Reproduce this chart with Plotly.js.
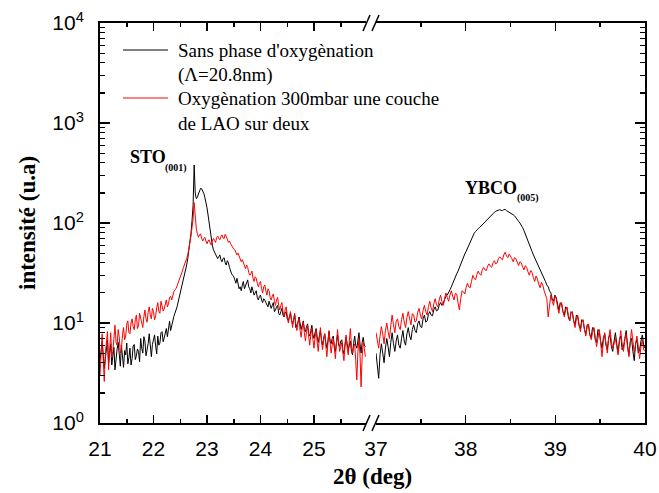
<!DOCTYPE html>
<html>
<head>
<meta charset="utf-8">
<script src="https://cdn.plot.ly/plotly-3.0.1.min.js"></script>
<style>html,body{margin:0;padding:0;background:#fff;}#chart{width:659px;height:493px;}</style>
</head>
<body>
<div id="chart"></div>
<script>
// ---- Data ----
// Left segment: 2theta from 21.00, step 0.02 deg (STO (001) region)
const leftStart = 21.0, leftStep = 0.02;
// Right segment: 2theta from 37.00, step 0.015 deg (YBCO (005) region)
const rightStart = 37.0, rightStep = 0.015;

const blackLeft = [
  4.2, 5.1, 6.5, 4.8, 3.5, 4.4, 5.8, 6.8, 4.0, 5.0,
  6.2, 3.8, 4.6, 5.7, 3.4, 4.9, 5.5, 6.4, 4.2, 3.7,
  6.0, 4.9, 3.6, 5.3, 4.8, 6.3, 3.9, 4.5, 5.6, 3.8,
  4.4, 5.9, 6.1, 4.3, 4.7, 5.5, 5.2, 4.1, 7.0, 5.6,
  5.0, 7.3, 6.6, 4.7, 5.3, 6.2, 7.8, 5.4, 4.6, 6.1,
  6.8, 7.6, 5.9, 4.9, 7.4, 6.0, 6.3, 8.0, 8.2, 6.5,
  7.1, 7.9, 8.8, 7.3, 9.5, 10.4, 8.4, 9.6, 11.0, 11.6,
  12.5, 13.2, 14.5, 16.2, 18, 19.5, 22, 24, 27, 30,
  34, 38, 44, 52, 62, 78, 105, 150, 380, 200,
  175, 180, 195, 210, 222, 220, 212, 198, 180, 162,
  142, 120, 98, 80, 68, 60, 54, 51, 50, 47,
  44, 46, 48, 43, 41, 44, 45, 40, 38, 42,
  40, 36, 33, 31, 30, 29, 27, 25, 28, 24,
  22, 23, 21, 24, 26, 22, 24, 25, 27, 23,
  22, 20, 23, 21, 19, 20, 21, 18, 17, 18.5,
  19, 17, 16, 17.5, 17, 16, 15, 14.5, 16.5, 15,
  14, 15, 16, 13, 13.5, 14.5, 15, 12.5, 12, 13,
  14, 12, 11.5, 12.5, 13, 11, 10.5, 11.5, 12.5, 10.5,
  9.8, 10.8, 12, 9, 9.5, 10.2, 11.5, 9.2, 8.6, 9.5,
  10.5, 8.6, 8.2, 9.2, 9.8, 7.8, 7.4, 8.4, 9.5, 7.6,
  7.0, 8.0, 8.8, 7.2, 6.4, 7.4, 8.4, 6.8, 6.0, 7.0,
  7.8, 6.4, 5.6, 6.6, 8.2, 6.6, 6.2, 7.0, 7.4, 5.8,
  5.2, 6.4, 7.6, 6.0, 5.8, 6.6, 6.8, 5.4, 4.9, 6.0,
  7.2, 6.2, 5.4, 6.0, 6.6, 5.2, 4.8, 6.2, 7.4, 6.0,
  5.6, 6.6, 8.0, 6.2, 5.0, 6.4, 7.2, 6.0, 5.8
];
const redLeft = [
  3.0, 5.6, 7.8, 4.4, 2.6, 5.0, 6.5, 8.2, 3.4, 6.0,
  8.0, 4.6, 5.2, 7.0, 9.5, 6.4, 6.0, 8.6, 7.2, 5.0,
  5.4, 7.6, 9.0, 6.8, 7.4, 9.8, 10.5, 8.0, 7.8, 10.0,
  11.0, 9.2, 8.6, 10.8, 12.0, 8.8, 9.4, 12.5, 11.2, 10.0,
  9.0, 11.6, 13.5, 11.0, 10.2, 12.8, 14.5, 12.0, 11.0, 14.0,
  13.0, 10.8, 11.8, 14.2, 16.0, 13.0, 12.5, 16.5, 15.0, 13.2,
  13.8, 16.0, 17.0, 14.5, 15.5, 18.0, 18.5, 17.0, 19.0, 20.5,
  21.5, 22.0, 23.5, 25.0, 27, 29, 31, 33, 36, 38,
  41, 44, 48, 54, 62, 74, 90, 110, 160, 105,
  88, 78, 72, 76, 78, 70, 66, 70, 72, 66,
  62, 66, 68, 63, 60, 66, 70, 67, 64, 71,
  74, 70, 68, 73, 76, 71, 70, 77, 74, 69,
  64, 66, 62, 59, 57, 55, 54, 50, 48, 50,
  47, 43, 41, 43, 40, 37, 35, 38, 36, 32,
  30, 31, 33, 28, 26, 29, 28, 25, 23, 25,
  26, 22, 20, 23, 24, 21, 19, 22, 21, 18,
  17, 18.5, 19.5, 16.5, 15, 17.0, 18, 15.0, 13.5, 15.0,
  16, 13.0, 11.5, 13.5, 14.5, 12.0, 10.0, 11.5, 13.0, 10.8,
  9.0, 11.0, 12.5, 9.6, 8.4, 10.0, 11.0, 8.4, 7.2, 9.0,
  10.2, 8.0, 6.6, 8.2, 9.6, 7.4, 6.0, 7.6, 8.8, 6.8,
  5.6, 7.2, 8.6, 6.4, 5.2, 7.0, 9.0, 6.6, 5.4, 6.8,
  7.8, 6.0, 4.6, 6.2, 8.4, 6.4, 5.0, 6.0, 7.0, 5.6,
  4.4, 6.4, 8.6, 6.6, 5.2, 5.8, 6.4, 5.0, 4.2, 6.2,
  7.6, 5.6, 4.8, 6.6, 8.8, 6.0, 5.0, 5.8, 6.2, 4.2,
  2.7, 5.0, 7.0, 4.8, 2.3, 4.6, 6.4, 5.6, 4.6
];
const blackRight = [
  5.0, 3.6, 2.8, 4.8, 6.2, 5.0, 4.0, 5.6, 7.0, 5.8,
  4.6, 6.4, 8.0, 6.2, 5.2, 6.6, 7.6, 6.0, 5.6, 7.0,
  8.4, 6.6, 6.0, 7.8, 9.0, 7.4, 6.8, 8.6, 9.6, 8.4,
  8.0, 9.8, 10.5, 9.2, 9.0, 11.0, 12.0, 10.2, 10.5, 12.2,
  13.0, 12.0, 11.8, 13.6, 14.5, 13.2, 13.5, 15.0, 16.0, 15.0,
  15.5, 17.2, 18.5, 19.0, 20, 21.5, 23, 25, 27, 29,
  31, 33, 36, 39, 42, 45, 49, 52, 56, 60,
  65, 71, 76, 79, 82, 86, 88, 90, 93, 97,
  100, 102, 105, 110, 114, 118, 122, 125, 128, 131,
  132, 135, 136, 134, 133, 136, 137, 133, 131, 128,
  126, 124, 121, 118, 114, 109, 104, 100, 96, 90,
  84, 78, 73, 67, 62, 57, 52, 48, 45, 41,
  38, 36, 34, 32, 30, 28, 26, 24, 23, 21,
  20, 17.5, 16.5, 19, 18, 15.5, 13.5, 16, 15.5, 13.0,
  12.0, 14.5, 14, 11.5, 10.5, 13, 12.5, 10.5, 9.6, 12.0,
  11.5, 9.4, 8.8, 10.8, 10.5, 8.6, 7.8, 9.6, 9.5, 7.6,
  7.2, 9.0, 8.8, 6.8, 6.4, 8.6, 8.2, 6.6, 5.6, 7.0,
  7.8, 6.0, 5.4, 7.2, 7.6, 5.8, 5.2, 6.6, 8.0, 6.2,
  5.0, 6.8, 7.4, 5.4, 5.8, 7.0, 8.4, 6.0, 4.8, 6.4,
  7.0, 5.2, 4.2, 6.2, 6.8, 5.0, 5.4, 6.6, 7.6, 6.0,
  5.6
];
const redRight = [
  8.0, 6.6, 5.6, 7.4, 9.2, 7.8, 6.2, 8.4, 10.0, 8.2,
  7.0, 9.4, 12.0, 9.6, 8.0, 10.4, 11.0, 9.2, 8.6, 10.8,
  12.5, 10.2, 9.0, 11.4, 13.0, 11.0, 9.6, 12.4, 12.0, 10.2,
  10.5, 12.8, 14.0, 12.0, 11.0, 13.4, 15.0, 13.0, 12.0, 14.6,
  16.5, 14.2, 13.0, 15.6, 17.5, 15.2, 14.5, 17.0, 19.0, 16.4,
  15.0, 17.6, 20.0, 18.0, 16.5, 19.0, 21.0, 18.6, 17.0, 19.8,
  19.5, 16.0, 13.5, 17.6, 21.0, 20.5, 19.5, 22.6, 25.0, 23.0,
  22.5, 26.0, 30.0, 28.0, 27.0, 30.5, 33.0, 31.0, 30.0, 34.0,
  36.0, 34.0, 33.5, 37.0, 39.0, 37.0, 36.0, 40.0, 42.0, 39.0,
  40.0, 44.0, 46.0, 44.0, 43.0, 48.0, 51.0, 47.0, 45.0, 49.0,
  47.0, 44.0, 41.0, 45.0, 44.0, 40.0, 37.5, 41.0, 40.0, 36.5,
  34.0, 37.5, 36.0, 32.5, 30.0, 33.5, 32.0, 28.5, 26.0, 29.5,
  27.5, 24.5, 22.5, 25.5, 24.0, 21.0, 19.0, 17.5, 11.5, 16.0,
  19.0, 16.5, 15.0, 18.5, 17.5, 14.5, 12.5, 15.5, 16.0, 13.0,
  11.5, 13.5, 14.5, 12.0, 10.5, 12.5, 13.0, 10.4, 9.0, 11.0,
  12.0, 9.6, 8.2, 10.2, 10.8, 8.6, 7.4, 9.2, 9.8, 7.6,
  6.8, 8.0, 9.0, 7.2, 5.8, 7.0, 8.6, 6.4, 4.6, 6.4,
  8.0, 6.2, 5.0, 7.0, 8.6, 6.6, 5.6, 6.2, 7.0, 5.8,
  4.8, 6.6, 8.4, 6.2, 5.2, 6.8, 7.8, 5.8, 4.6, 6.4,
  8.6, 6.6, 5.0, 6.2, 7.4, 5.8, 4.4, 5.8, 6.8, 5.4,
  5.2
];

const seriesNames = ["Sans phase d'oxygènation", "Oxygènation 300mbar une couche de LAO sur deux"];
const legendLines = [["Sans phase d'oxygènation", "(Λ=20.8nm)"], ["Oxygènation 300mbar une couche", "de LAO sur deux"]];
const leftTicks = [21, 22, 23, 24, 25];
const leftMinor = [21.5, 22.5, 23.5, 24.5, 25.5];
const rightTicks = [37, 38, 39, 40];
const rightMinor = [37.5, 38.5, 39.5];
const yTickVals = [1, 10, 100, 1000, 10000];
const yTickText = ['10<sup>0</sup>', '10<sup>1</sup>', '10<sup>2</sup>', '10<sup>3</sup>', '10<sup>4</sup>'];
const yMinor = [];
[1, 10, 100, 1000].forEach(d => { for (let m = 2; m <= 9; m++) yMinor.push(m * d); });

const gridX = (arr, start, step) => arr.map((_, i) => +(start + i * step).toFixed(4));

// ---- Layout helpers (pixel -> paper) ----
const W = 659, H = 493, ML = 100, MR = 14, MT = 23, MB = 70;
const PW = W - ML - MR, PH = H - MT - MB;
const px = x => (x - ML) / PW;
const py = y => (H - MB - y) / PH;

const SERIF = '"Times New Roman", "Liberation Serif", Tinos, serif';
const SANS = 'Arial, "Liberation Sans", sans-serif';

const traces = [
  {x: gridX(blackLeft, leftStart, leftStep), y: blackLeft, xaxis: 'x', yaxis: 'y', type: 'scatter', mode: 'lines', name: seriesNames[0], line: {color: '#000000', width: 1}, showlegend: false},
  {x: gridX(redLeft, leftStart, leftStep), y: redLeft, xaxis: 'x', yaxis: 'y', type: 'scatter', mode: 'lines', name: seriesNames[1], line: {color: '#ff0000', width: 1}, showlegend: false},
  {x: gridX(blackRight, rightStart, rightStep), y: blackRight, xaxis: 'x2', yaxis: 'y2', type: 'scatter', mode: 'lines', name: seriesNames[0], line: {color: '#000000', width: 1}, showlegend: false},
  {x: gridX(redRight, rightStart, rightStep), y: redRight, xaxis: 'x2', yaxis: 'y2', type: 'scatter', mode: 'lines', name: seriesNames[1], line: {color: '#ff0000', width: 1}, showlegend: false}
];

const xCommon = {
  ticks: 'inside', ticklen: 8, tickwidth: 1.5, tickcolor: '#000',
  showline: true, linewidth: 2, linecolor: '#000', mirror: 'ticks',
  showgrid: false, zeroline: false,
  tickfont: {family: SANS, size: 21, color: '#000'},
  ticklabelstandoff: 6
};
const yCommon = {
  type: 'log', range: [0, 4],
  ticks: 'inside', ticklen: 10, tickwidth: 1.5, tickcolor: '#000',
  showline: true, linewidth: 2, linecolor: '#000',
  showgrid: false, zeroline: false,
  minor: {tickmode: 'array', tickvals: yMinor, ticks: 'inside', ticklen: 5, tickwidth: 1.2, tickcolor: '#000', showgrid: false}
};

const annFont = (size) => ({family: SERIF, size: size, color: '#000'});
const ann = (text, x, y, size, extra) => Object.assign({
  text: text, x: px(x), y: py(y), xref: 'paper', yref: 'paper',
  xanchor: 'left', yanchor: 'middle', showarrow: false, font: annFont(size)
}, extra || {});

const layout = {
  width: W, height: H,
  margin: {l: ML, r: MR, t: MT, b: MB, pad: 0},
  paper_bgcolor: '#fff', plot_bgcolor: '#fff',
  showlegend: false,
  xaxis: Object.assign({}, xCommon, {
    domain: [0, px(366)], range: [21, 21 + 266 / 53.5], anchor: 'y',
    tickmode: 'array', tickvals: leftTicks,
    minor: {tickmode: 'array', tickvals: leftMinor, ticks: 'inside', ticklen: 4, tickwidth: 1.5, tickcolor: '#000', showgrid: false}
  }),
  xaxis2: Object.assign({}, xCommon, {
    domain: [px(376), 1], range: [37, 40], anchor: 'y2',
    tickmode: 'array', tickvals: rightTicks,
    minor: {tickmode: 'array', tickvals: rightMinor, ticks: 'inside', ticklen: 4, tickwidth: 1.5, tickcolor: '#000', showgrid: false}
  }),
  yaxis: Object.assign({}, yCommon, {
    anchor: 'x', side: 'left', tickmode: 'array', tickvals: yTickVals, ticktext: yTickText,
    tickfont: {family: SANS, size: 21, color: '#000'}, ticklabelstandoff: 10
  }),
  yaxis2: Object.assign({}, yCommon, {
    anchor: 'x2', side: 'right', matches: 'y', showticklabels: false,
    tickmode: 'array', tickvals: yTickVals
  }),
  shapes: [
    // legend line samples
    {type: 'line', xref: 'paper', yref: 'paper', x0: px(123), x1: px(168), y0: py(50), y1: py(50), line: {color: '#000000', width: 1}},
    {type: 'line', xref: 'paper', yref: 'paper', x0: px(123), x1: px(168), y0: py(98), y1: py(98), line: {color: '#ff0000', width: 1}},
    // axis break marks
    {type: 'line', xref: 'paper', yref: 'paper', x0: px(363), x1: px(370), y0: py(431), y1: py(415), line: {color: '#000', width: 1.5}},
    {type: 'line', xref: 'paper', yref: 'paper', x0: px(372), x1: px(379), y0: py(431), y1: py(415), line: {color: '#000', width: 1.5}},
    {type: 'line', xref: 'paper', yref: 'paper', x0: px(363), x1: px(370), y0: py(31), y1: py(15), line: {color: '#000', width: 1.5}},
    {type: 'line', xref: 'paper', yref: 'paper', x0: px(372), x1: px(379), y0: py(31), y1: py(15), line: {color: '#000', width: 1.5}}
  ],
  annotations: [
    ann(legendLines[0][0], 176, 50, 19),
    ann(legendLines[0][1], 176, 75, 19),
    ann(legendLines[1][0], 176, 99, 19),
    ann(legendLines[1][1], 176, 123, 19),
    ann('<b>STO</b>', 128, 157, 18),
    ann('<b>(001)</b>', 163, 168, 10),
    ann('<b>YBCO</b>', 463, 188, 18),
    ann('<b>(005)</b>', 515, 198, 10),
    ann('<b>intensité (u.a)</b>', 27, 223, 23, {xanchor: 'center', textangle: -90}),
    ann('<b>2θ (deg)</b>', 372, 476, 23, {xanchor: 'center'})
  ]
};

Plotly.newPlot('chart', traces, layout, {staticPlot: true, displayModeBar: false});
</script>
</body>
</html>
